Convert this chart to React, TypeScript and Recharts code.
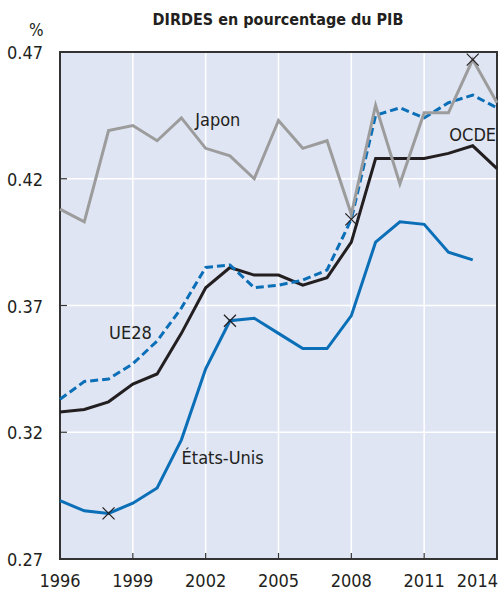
import { LineChart, Line, XAxis, YAxis, CartesianGrid, ReferenceArea, ReferenceDot } from 'recharts'

const years = [1996, 1997, 1998, 1999, 2000, 2001, 2002, 2003, 2004, 2005, 2006, 2007, 2008, 2009, 2010, 2011, 2012, 2013, 2014]

const japon = [0.408, 0.403, 0.439, 0.441, 0.435, 0.444, 0.432, 0.429, 0.420, 0.443, 0.432, 0.435, 0.406, 0.449, 0.418, 0.446, 0.446, 0.467, 0.450]
const ue28 = [0.333, 0.340, 0.341, 0.347, 0.356, 0.369, 0.385, 0.386, 0.377, 0.378, 0.380, 0.384, 0.404, 0.445, 0.448, 0.444, 0.450, 0.453, 0.448]
const ocde = [0.328, 0.329, 0.332, 0.339, 0.343, 0.359, 0.377, 0.385, 0.382, 0.382, 0.378, 0.381, 0.395, 0.428, 0.428, 0.428, 0.430, 0.433, 0.424]
const etatsUnis = [0.293, 0.289, 0.288, 0.292, 0.298, 0.317, 0.345, 0.364, 0.365, 0.359, 0.353, 0.353, 0.366, 0.395, 0.403, 0.402, 0.391, 0.388, null]

// years flagged with a cross on each series
const crossJapon = [2013]
const crossUe28 = [2008]
const crossUS = [1998, 2003]

const xTicks = [1996, 1999, 2002, 2005, 2008, 2011, 2014]
const yTicks = [0.27, 0.32, 0.37, 0.42, 0.47]

const seriesLabels = ['Japon', 'OCDE', 'UE28', 'États-Unis']
const labelX = [2002.5, 2013.0, 1998.9, 2002.7]
const labelY = [0.4432, 0.4373, 0.3595, 0.3098]

const data = years.map((year, i) => ({
  year,
  japon: japon[i],
  ue28: ue28[i],
  ocde: ocde[i],
  etatsUnis: etatsUnis[i],
}))

const FONT = "'Liberation Sans Narrow', 'DejaVu Sans Condensed', sans-serif"
const BLUE = '#0b6fb8'
const GRAY = '#9c9c9c'
const BLACK = '#231f20'
const FRAME = '#333333'

const crossDot = (marks: number[]) => (props: any) => {
  const { cx, cy, payload, index } = props
  if (!marks.includes(payload.year) || cy == null) return <g key={`c${index}`} />
  const s = 6
  return (
    <g key={`c${index}`} stroke={BLACK} strokeWidth={1.2}>
      <line x1={cx - s} y1={cy - s} x2={cx + s} y2={cy + s} />
      <line x1={cx - s} y1={cy + s} x2={cx + s} y2={cy - s} />
    </g>
  )
}

const XTick = (props: any) => {
  const { x, y, payload } = props
  const last = payload.value === xTicks[xTicks.length - 1]
  return (
    <g>
      <line x1={x} y1={y} x2={x} y2={y - 6} stroke={FRAME} strokeWidth={1.2} />
      <text x={last ? x + 1 : x} y={y + 28} textAnchor={last ? 'end' : 'middle'} fontFamily={FONT} fontSize={18} fill="#231f20">
        {payload.value}
      </text>
    </g>
  )
}

const YTick = (props: any) => {
  const { x, y, payload } = props
  return (
    <g>
      <line x1={x} y1={y} x2={x + 7} y2={y} stroke={FRAME} strokeWidth={1.2} />
      <text x={x - 17} y={y + 7} textAnchor="end" fontFamily={FONT} fontSize={18} fill="#231f20">
        {payload.value.toFixed(2)}
      </text>
    </g>
  )
}

export default function App() {
  return (
    <div style={{ position: 'relative', width: 502, height: 592, background: '#fff' }}>
      <style>{'body{margin:0}'}</style>

      <div style={{ position: 'absolute', left: 0, width: 556, top: 10, textAlign: 'center', fontFamily: FONT, fontWeight: 'bold', fontSize: 16, color: '#231f20' }}>
        DIRDES en pourcentage du PIB
      </div>
      <div style={{ position: 'absolute', left: 29, top: 20, fontFamily: FONT, fontSize: 17, color: '#231f20' }}>
        %
      </div>

      <LineChart width={502} height={592} data={data} margin={{ top: 52, right: 5, bottom: 3, left: 0 }}>
        <CartesianGrid stroke="#ffffff" strokeWidth={1.5} fill="#dfe5f3" fillOpacity={1} />

        <XAxis
          dataKey="year"
          type="number"
          domain={[1996, 2014]}
          ticks={xTicks}
          height={30}
          axisLine={false}
          tickLine={false}
          tickSize={0}
          tickMargin={0}
          tick={<XTick />}
          interval={0}
        />
        <YAxis
          type="number"
          domain={[0.27, 0.47]}
          ticks={yTicks}
          width={60}
          axisLine={false}
          tickLine={false}
          tickSize={0}
          tickMargin={0}
          tick={<YTick />}
          interval={0}
        />

        <Line dataKey="etatsUnis" stroke={BLUE} strokeWidth={3} dot={crossDot(crossUS)} activeDot={false} isAnimationActive={false} connectNulls={false} />
        <Line dataKey="ocde" stroke={BLACK} strokeWidth={3} dot={false} activeDot={false} isAnimationActive={false} />
        <Line dataKey="ue28" stroke={BLUE} strokeWidth={3} strokeDasharray="8 4" dot={crossDot(crossUe28)} activeDot={false} isAnimationActive={false} />
        <Line dataKey="japon" stroke={GRAY} strokeWidth={3} dot={crossDot(crossJapon)} activeDot={false} isAnimationActive={false} />

        <ReferenceArea x1={1996} x2={2014} y1={0.27} y2={0.47} fill="none" stroke={FRAME} strokeWidth={2} ifOverflow="visible" />

        {seriesLabels.map((name, i) => (
          <ReferenceDot
            key={name}
            x={labelX[i]}
            y={labelY[i]}
            r={0}
            fill="none"
            stroke="none"
            ifOverflow="visible"
            label={{ value: name, position: 'center', fontFamily: FONT, fontSize: 18, fill: '#231f20' }}
          />
        ))}
      </LineChart>
    </div>
  )
}
